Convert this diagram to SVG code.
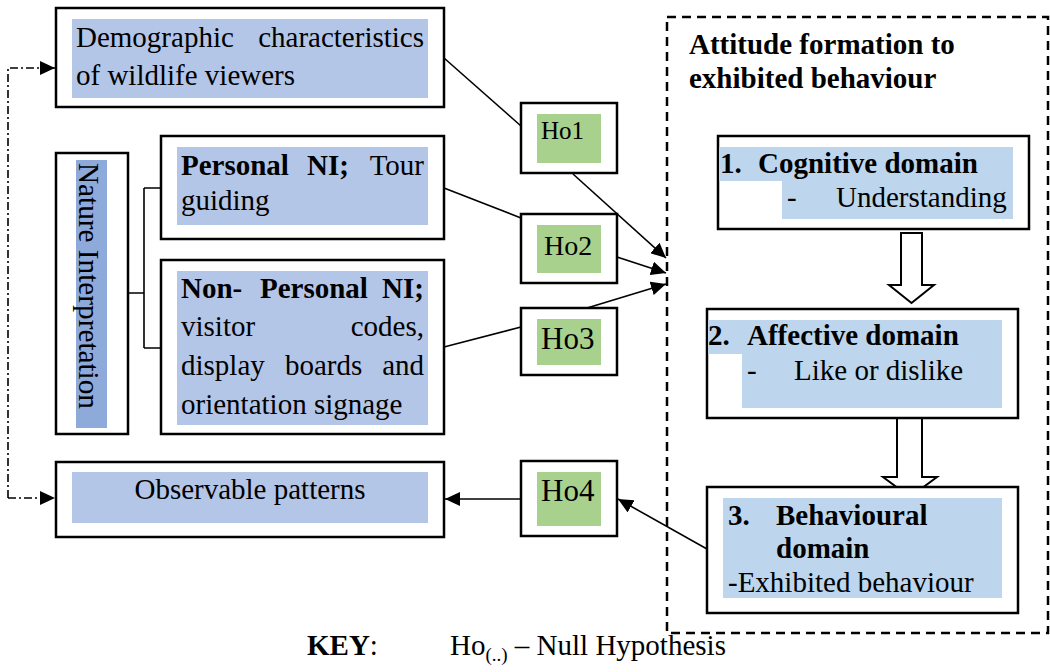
<svg xmlns="http://www.w3.org/2000/svg" width="1050" height="672" viewBox="0 0 1050 672">
<style>
.box{fill:#fff;stroke:#000;stroke-width:2.5}
.fb{fill:#b4c6e7}
.fd{fill:#8eaadb}
.fl{fill:#bdd6ee}
.fg{fill:#a9d18e}
text{font-family:'Liberation Serif','Times New Roman','DejaVu Serif',serif;font-size:29px;fill:#000}
.b{font-weight:bold}
.ln{stroke:#000;stroke-width:1.6;fill:none}
.hol{fill:#fff;stroke:#000;stroke-width:2}
</style>
<defs>
<marker id="ah" markerUnits="userSpaceOnUse" markerWidth="16" markerHeight="14" refX="15" refY="7" orient="auto">
<path d="M0,0 L15,7 L0,14 Z" fill="#000"/>
</marker>
</defs>
<rect width="1050" height="672" fill="#fff"/>

<g id="frame">
<rect x="667" y="17" width="381" height="616" fill="none" stroke="#000" stroke-width="2.5" stroke-dasharray="9 6"/>
<text class="b" x="689" y="54">Attitude formation to</text>
<text class="b" x="689" y="88">exhibited behaviour</text>
</g>

<g id="connectors">
<path class="ln" d="M8,498 V68 H55" stroke-dasharray="8 3 2 3" marker-end="url(#ah)"/>
<path class="ln" d="M8,498 H55" stroke-dasharray="8 3 2 3" marker-end="url(#ah)"/>
<path class="ln" d="M128,293 H144 M144,188 V348 M144,188 H161 M144,348 H161"/>
<path class="ln" d="M444,58 L521,126"/>
<path class="ln" d="M573,174 L666,258" marker-end="url(#ah)"/>
<path class="ln" d="M444,188 L521,218"/>
<path class="ln" d="M617,257 L666,273" marker-end="url(#ah)"/>
<path class="ln" d="M444,347 L521,327"/>
<path class="ln" d="M587,308 L666,284" marker-end="url(#ah)"/>
<path class="ln" d="M521,499 L445,499" marker-end="url(#ah)"/>
<path class="ln" d="M707,549 L618,499" marker-end="url(#ah)"/>
<path class="hol" d="M901,233 H922 V285 H934 L911.5,303 L889,285 H901 Z"/>
<path class="hol" d="M897,418 H922 V477 H937 L910,497 L883,477 H897 Z"/>
</g>

<g id="demographic">
<rect class="box" x="56" y="8" width="388" height="99"/>
<rect class="fb" x="72" y="19" width="356" height="79"/>
<text x="76" y="47">Demographic</text>
<text x="424" y="47" text-anchor="end">characteristics</text>
<text x="76" y="85">of wildlife viewers</text>
</g>

<g id="nature">
<rect class="box" x="56" y="153" width="72" height="281"/>
<rect class="fd" x="76" y="160" width="31" height="268"/>
<text transform="translate(79,163) rotate(90)" style="font-size:30px" textLength="246" lengthAdjust="spacingAndGlyphs">Nature Interpretation</text>
</g>

<g id="personal">
<rect class="box" x="161" y="136" width="283" height="103"/>
<rect class="fb" x="177" y="147" width="251" height="78"/>
<text class="b" x="181" y="175">Personal</text>
<text class="b" x="307" y="175">NI;</text>
<text x="424" y="175" text-anchor="end">Tour</text>
<text x="181" y="210">guiding</text>
</g>

<g id="nonpersonal">
<rect class="box" x="161" y="260" width="283" height="174"/>
<rect class="fb" x="177" y="271" width="251" height="154"/>
<text class="b" x="181" y="298">Non-</text>
<text class="b" x="260" y="298">Personal</text>
<text class="b" x="424" y="298" text-anchor="end">NI;</text>
<text x="181" y="336">visitor</text>
<text x="424" y="336" text-anchor="end">codes,</text>
<text x="181" y="375">display</text>
<text x="285" y="375">boards</text>
<text x="424" y="375" text-anchor="end">and</text>
<text x="181" y="414">orientation signage</text>
</g>

<g id="observable">
<rect class="box" x="56" y="462" width="388" height="75"/>
<rect class="fb" x="72" y="472" width="356" height="51"/>
<text x="250" y="499" text-anchor="middle">Observable patterns</text>
</g>

<g id="ho1">
<rect class="box" x="521" y="103" width="96" height="70"/>
<rect class="fg" x="537" y="114" width="64" height="49"/>
<text x="541" y="139" style="font-size:25px">Ho1</text>
</g>
<g id="ho2">
<rect class="box" x="521" y="214" width="96" height="69"/>
<rect class="fg" x="537" y="225" width="64" height="48"/>
<text x="544" y="255" style="font-size:28px">Ho2</text>
</g>
<g id="ho3">
<rect class="box" x="521" y="308" width="96" height="67"/>
<rect class="fg" x="537" y="319" width="64" height="46"/>
<text x="541" y="349" style="font-size:31px">Ho3</text>
</g>
<g id="ho4">
<rect class="box" x="521" y="461" width="96" height="75"/>
<rect class="fg" x="537" y="472" width="64" height="54"/>
<text x="541" y="501" style="font-size:31px">Ho4</text>
</g>

<g id="cognitive">
<rect class="box" x="718" y="136" width="311" height="93"/>
<rect class="fl" x="719" y="147" width="294" height="34"/>
<rect class="fl" x="782" y="180" width="231" height="39"/>
<text class="b" x="720" y="173">1.</text>
<text class="b" x="758" y="173">Cognitive domain</text>
<text x="787" y="207">-</text>
<text x="836" y="207">Understanding</text>
</g>

<g id="affective">
<rect class="box" x="707" y="309" width="311" height="109"/>
<rect class="fl" x="708" y="320" width="294" height="34"/>
<rect class="fl" x="742" y="353" width="260" height="55"/>
<text class="b" x="708" y="345">2.</text>
<text class="b" x="747" y="345">Affective domain</text>
<text x="747" y="380">-</text>
<text x="794" y="380">Like or dislike</text>
</g>

<g id="behavioural">
<rect class="box" x="707" y="487" width="311" height="126"/>
<rect class="fl" x="723" y="498" width="279" height="100"/>
<text class="b" x="728" y="525">3.</text>
<text class="b" x="776" y="525">Behavioural</text>
<text class="b" x="776" y="558">domain</text>
<text x="728" y="592">-Exhibited behaviour</text>
</g>

<g id="key">
<text x="307" y="655"><tspan class="b">KEY</tspan>:</text>
<text x="450" y="655">Ho<tspan dy="6" style="font-size:19px">(..)</tspan><tspan dy="-6"> – Null Hypothesis</tspan></text>
</g>
</svg>
